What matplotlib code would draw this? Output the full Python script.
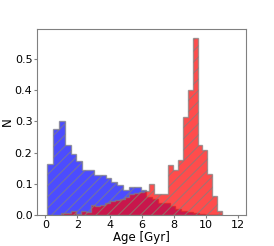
import matplotlib
matplotlib.use("Agg")
import matplotlib.pyplot as plt
import numpy as np

# histogram heights (normalised counts)
blue_edges = np.linspace(0.12, 11.01, 31)
blue_heights = [0.165, 0.277, 0.301, 0.226, 0.195, 0.173, 0.145, 0.145, 0.127, 0.127,
                0.120, 0.106, 0.095, 0.081, 0.090, 0.090, 0.079, 0.058, 0.050, 0.040,
                0.037, 0.028, 0.018, 0.014, 0.010, 0.005, 0.002, 0.001, 0.0, 0.0]

red_edges = np.linspace(1.0, 11.0, 34)
red_heights = [0.005, 0.005, 0.014, 0.004, 0.013, 0.010, 0.032, 0.028, 0.032, 0.039,
               0.046, 0.048, 0.052, 0.057, 0.066, 0.072, 0.075, 0.078, 0.099, 0.066,
               0.066, 0.068, 0.159, 0.143, 0.175, 0.313, 0.401, 0.568, 0.224, 0.207,
               0.132, 0.060, 0.014]

plt.rcParams['hatch.color'] = 'gray'
plt.rcParams['hatch.linewidth'] = 0.8

fig = plt.figure(figsize=(2.74, 2.46), dpi=100)
ax = fig.add_axes([0.136, 0.126, 0.762, 0.756])


def draw(edges, heights, color):
    centers = 0.5 * (edges[:-1] + edges[1:])
    ax.hist(centers, bins=edges, weights=heights, histtype='stepfilled',
            color=color, edgecolor='gray', alpha=0.7, hatch='///', linewidth=1.0)


draw(blue_edges, blue_heights, 'blue')
draw(red_edges, red_heights, 'red')

ax.set_xlim(-0.5, 12.5)
ax.set_xticks([0, 2, 4, 6, 8, 10, 12])
ax.set_yticks([0.0, 0.1, 0.2, 0.3, 0.4, 0.5])
ax.set_xlabel('Age [Gyr]', fontsize=8.5, labelpad=0.5)
ax.set_ylabel('N', fontsize=8.5, labelpad=0.5)
ax.tick_params(labelsize=8, length=2.5, width=0.8, color='gray', pad=1)
for sp in ax.spines.values():
    sp.set_color('gray')

fig.savefig('out.png', dpi=100)
